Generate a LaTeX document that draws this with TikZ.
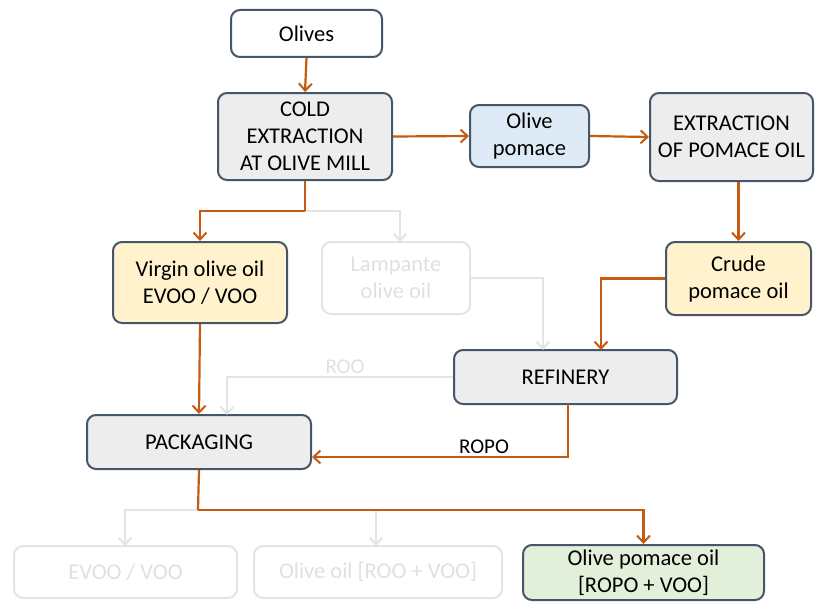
\documentclass[tikz,border=0pt]{standalone}
\usepackage{fontspec}
\setmainfont{Carlito}
\usetikzlibrary{arrows.meta}
\definecolor{boxline}{HTML}{475569}
\definecolor{flow}{HTML}{C55A11}
\definecolor{faint}{HTML}{E4E4E4}
\definecolor{fainttext}{HTML}{E0E0E0}
\definecolor{gfill}{HTML}{EDEDED}
\definecolor{bfill}{HTML}{DEEBF7}
\definecolor{yfill}{HTML}{FFF2CC}
\definecolor{grfill}{HTML}{E2EFDA}
\tikzset{
  box/.style={draw=boxline, line width=2pt, rounded corners=9pt, align=center,
    inner sep=0pt, font=\fontsize{22.5}{27}\selectfont},
  ghost/.style={draw=faint, line width=2pt, rounded corners=9pt, align=center,
    inner sep=0pt, text=fainttext, font=\fontsize{22.5}{27}\selectfont},
  flowarr/.style={draw=flow, line width=2.2pt, -{Straight Barb[length=7pt,width=13pt,line width=2pt]}},
  faintarr/.style={draw=faint, line width=2.2pt, -{Straight Barb[length=7pt,width=13pt,line width=2pt]}},
  flowline/.style={draw=flow, line width=2.2pt},
}
\begin{document}
\begin{tikzpicture}[x=1pt,y=-1pt]
\useasboundingbox (0,0) rectangle (819,602);
\node[box, fill=white, minimum width=151pt, minimum height=47pt] (olives) at (306.5,33.5) {Olives};
\node[box, fill=gfill, minimum width=174pt, minimum height=87pt] (cold) at (305,136.5) {COLD\\EXTRACTION\\AT OLIVE MILL};
\node[box, fill=bfill, minimum width=119pt, minimum height=62pt] (pomace) at (529.5,136) {Olive\\pomace};
\node[box, fill=gfill, minimum width=163pt, minimum height=88pt] (extr) at (731.5,137) {EXTRACTION\\OF POMACE OIL};
\node[box, fill=yfill, minimum width=174pt, minimum height=81pt] (virgin) at (200,282.5) {Virgin olive oil\\EVOO / VOO};
\node[ghost, minimum width=148pt, minimum height=72pt] (lamp) at (396,278) {Lampante\\olive oil};
\node[box, fill=yfill, minimum width=145pt, minimum height=73pt] (crude) at (738.5,278.5) {Crude\\pomace oil};
\node[box, fill=gfill, minimum width=223pt, minimum height=54pt] (ref) at (565.5,377) {REFINERY};
\node[box, fill=gfill, minimum width=224pt, minimum height=54pt] (pack) at (199,442) {PACKAGING};
\node[ghost, minimum width=223pt, minimum height=52pt] (evoo) at (125.5,572) {EVOO / VOO};
\node[ghost, minimum width=248pt, minimum height=52pt] (oo) at (378,572) {Olive oil [ROO + VOO]};
\node[box, fill=grfill, minimum width=241pt, minimum height=55pt] (pomoil) at (643.5,572.5) {Olive pomace oil\\{}[ROPO + VOO]};

\node[text=fainttext, font=\fontsize{21}{24}\selectfont] (roo) at (345,367) {ROO};
\node[font=\fontsize{21}{24}\selectfont] (ropo) at (484,447) {ROPO};

\coordinate (split1) at (305,211);
\coordinate (split2) at (198,510);

% faint connectors
\draw[faintarr] (split1) -| (400,242);
\draw[faintarr] (lamp.east) -| (543,350);
\draw[faintarr] (ref.west) -| (227,415);
\draw[faintarr] (split2) -| (125,546);
\draw[faintarr] (376,510) -- (376,546);

% main flow
\draw[flowarr] (olives.south) -- (cold.north);
\draw[flowarr] (cold.east) -- (pomace.west);
\draw[flowarr] (pomace.east) -- (extr.west);
\draw[flowarr] (extr.south -| crude.north) -- (crude.north);
\draw[flowline] (cold.south) -- (split1);
\draw[flowarr] (split1) -| (virgin.north);
\draw[flowarr] (crude.west) -| (601,350);
\draw[flowarr] (virgin.south) -- (pack.north);
\draw[flowarr] (568,404) |- (pack.east |- 0,457);
\draw[flowline] (pack.south) -- (split2);
\draw[flowarr] (split2) -| (pomoil.north);
\end{tikzpicture}
\end{document}
